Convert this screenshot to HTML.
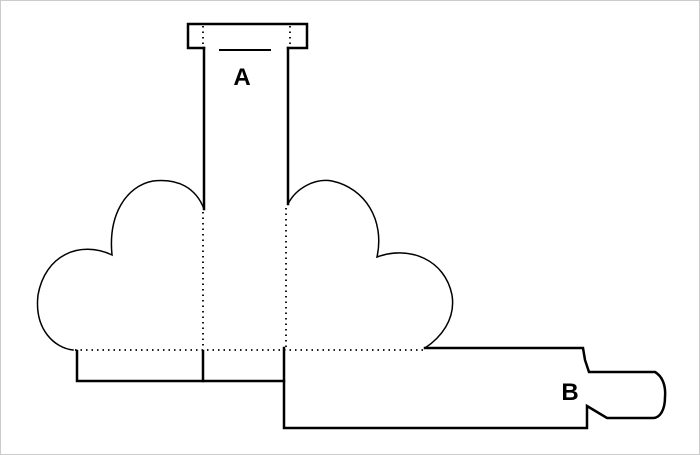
<!DOCTYPE html>
<html><head><style>
html,body{margin:0;padding:0;background:#fff;}
svg{display:block;}
</style></head><body>
<svg width="700" height="455" viewBox="0 0 700 455" xmlns="http://www.w3.org/2000/svg">
<rect x="0.5" y="0.5" width="699" height="454" fill="#fff" stroke="#ccc" stroke-width="1"/>
<g fill="none" stroke="#000" stroke-linecap="square">
<path d="M204 48 L188 48 L188 24 L307 24 L307 48 L288 48" stroke-width="2.5"/>
<line x1="204" y1="48" x2="204" y2="209" stroke-width="2.5"/>
<line x1="288" y1="48" x2="288" y2="204" stroke-width="2.5"/>
<line x1="220" y1="50" x2="270" y2="50" stroke-width="2"/>
<path d="M425 348 L583 348 L585 360 L589 372 L655 372 C662 376 666 385 665 397 C665 410 660 418 653 418 L607 418 L587 406 L587 428 L284 428 L284 348" stroke-width="2.5"/>
<path d="M77 351 L77 381 L284 381" stroke-width="2.5"/>
<line x1="203" y1="351" x2="203" y2="381" stroke-width="2.5"/>
<path d="M204 209 C196 188 178 178 153 181 C126 186 108 215 112 255 C80 240 45 255 38 295 C34 330 55 348 73 350" stroke-width="1.5"/>
<path d="M288 204 C296 188 315 178 332 181 C365 188 385 220 377 257 C410 245 445 260 452 295 C456 320 440 338 425 348" stroke-width="1.5"/>
</g>
<g fill="none" stroke="#000" stroke-width="1.8" stroke-dasharray="1.5,4" stroke-linecap="butt">
<line x1="203" y1="26" x2="203" y2="46"/>
<line x1="290" y1="26" x2="290" y2="46"/>
<line x1="203" y1="212" x2="203" y2="348"/>
<line x1="286" y1="208" x2="286" y2="348"/>
<line x1="75" y1="350" x2="425" y2="350"/>
</g>
<text x="242" y="85" font-family="Liberation Sans, sans-serif" font-weight="bold" font-size="24" text-anchor="middle">A</text>
<text x="570" y="400" font-family="Liberation Sans, sans-serif" font-weight="bold" font-size="24" text-anchor="middle">B</text>
</svg>
</body></html>
